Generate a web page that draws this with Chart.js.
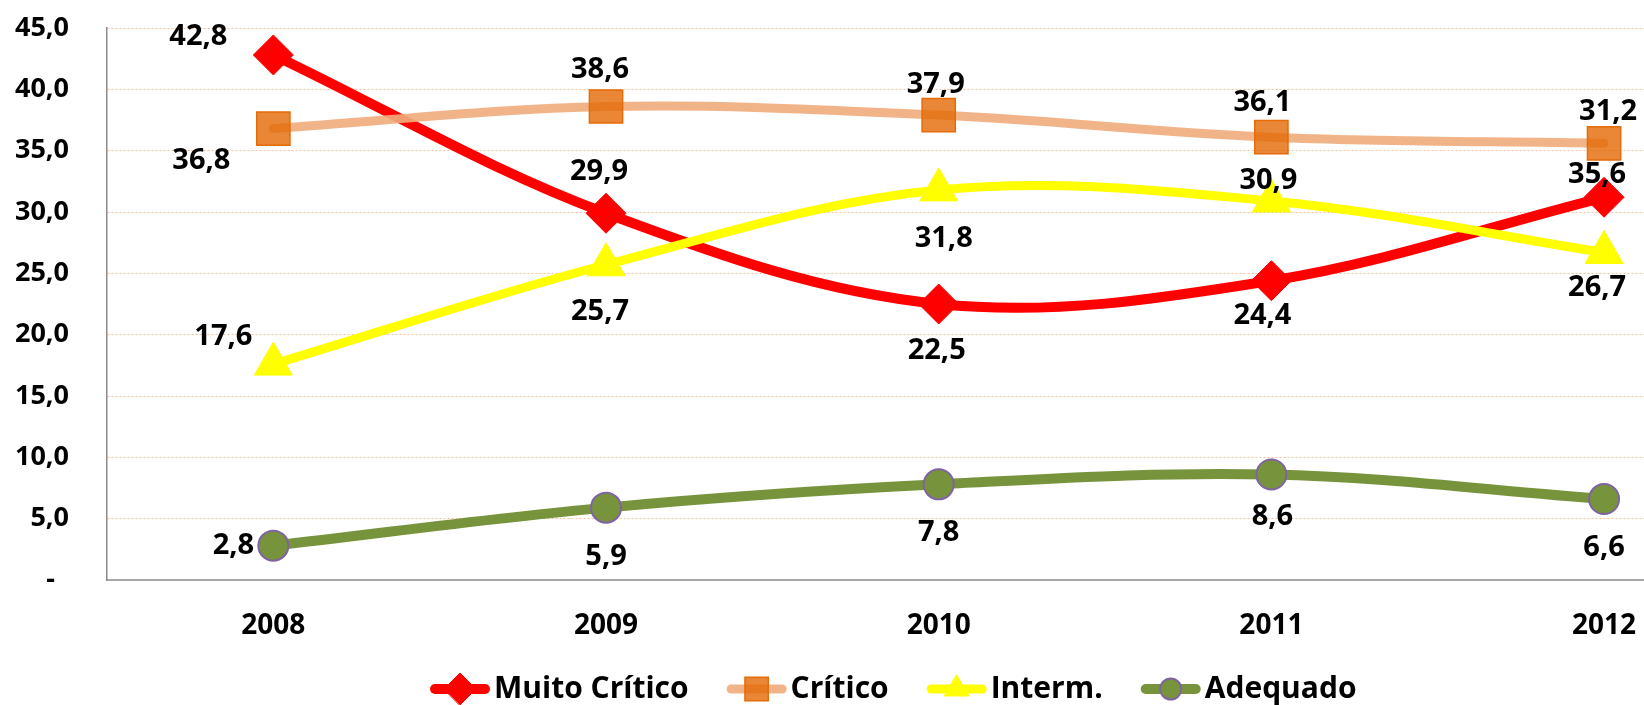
<!DOCTYPE html>
<html>
<head>
<meta charset="utf-8">
<script src="https://cdn.jsdelivr.net/npm/chart.js@4.4.0/dist/chart.umd.min.js"></script>
<style>
  html, body { margin: 0; padding: 0; background: #ffffff; }
  #wrap { width: 1644px; height: 705px; }
</style>
</head>
<body>
<div id="wrap"><canvas id="chart" width="1644" height="705"></canvas></div>
<script>
// Percentual de alunos por nível de desempenho, 2008–2012
const years = [2008, 2009, 2010, 2011, 2012];
const muitoCritico = [42.8, 29.9, 22.5, 24.4, 31.2];
const critico = [36.8, 38.6, 37.9, 36.1, 35.6];
const interm = [17.6, 25.7, 31.8, 30.9, 26.7];
const adequado = [2.8, 5.9, 7.8, 8.6, 6.6];
const seriesNames = ['Muito Crítico', 'Crítico', 'Interm.', 'Adequado'];
const yTicks = [0, 5, 10, 15, 20, 25, 30, 35, 40, 45];

const FONT = 'Open Sans';
const fmt = v => v.toFixed(1).replace('.', ',');

// visual style per series
const seriesStyle = [
  { line: '#FF0000', fill: '#FF0000', border: '#FF0000', point: 'rectRot', r: 20, bw: 1, lw: 10, order: 4, legendR: 16 },
  { line: 'rgba(240,172,124,0.9)', fill: 'rgba(228,108,10,0.82)', border: '#E46C0A', point: 'rect', r: 23.5, bw: 1.5, lw: 9, order: 3, legendR: 16.5 },
  { line: '#FFFF00', fill: '#FFFF00', border: '#FFFF00', point: 'triangle', r: 22, bw: 1, lw: 9, order: 2, legendR: 14 },
  { line: '#77933C', fill: '#77933C', border: '#8064A2', point: 'circle', r: 15, bw: 2, lw: 10, order: 1, legendR: 10.5 }
];

// value-label offsets (dx, dy) from each marker centre
const labelOffsets = [
  [[-75, -18], [-7, -41], [-2, 47], [-9, 35], [4, -86]],
  [[-72, 32], [-6, -37], [-3, -30], [-9, -34], [-7, 31]],
  [[-50, -27], [-6, 47], [5, 49], [-3, -20], [-7, 35]],
  [[-40, 0], [0, 49], [0, 48], [1, 42], [0, 49]]
];

const seriesValues = [muitoCritico, critico, interm, adequado];

const datasets = seriesValues.map((vals, s) => {
  const st = seriesStyle[s];
  return {
    label: seriesNames[s],
    data: years.map((yr, i) => ({ x: yr, y: vals[i] })),
    borderColor: st.line,
    backgroundColor: st.fill,
    borderWidth: st.lw,
    borderCapStyle: 'round',
    borderJoinStyle: 'round',
    tension: 0.35,
    pointStyle: st.point,
    pointRadius: st.r,
    pointHoverRadius: st.r,
    pointBackgroundColor: st.fill,
    pointBorderColor: st.border,
    pointBorderWidth: st.bw,
    order: st.order,
    clip: false
  };
});

const valueLabels = {
  id: 'valueLabels',
  afterDatasetsDraw(chart) {
    const ctx = chart.ctx;
    ctx.save();
    ctx.font = `bold 29px "${FONT}"`;
    ctx.fillStyle = '#000000';
    ctx.textAlign = 'center';
    ctx.textBaseline = 'middle';
    chart.data.datasets.forEach((ds, s) => {
      const meta = chart.getDatasetMeta(s);
      meta.data.forEach((pt, i) => {
        const [dx, dy] = labelOffsets[s][i];
        ctx.fillText(fmt(seriesValues[s][i]), pt.x + dx, pt.y + dy);
      });
    });
    ctx.restore();
  }
};

const lineLegend = {
  id: 'lineLegend',
  afterDraw(chart) {
    const ctx = chart.ctx;
    const cy = 689;
    const lineLen = 60, toText = 4, gap = 38;
    ctx.save();
    ctx.font = `bold 30px "${FONT}"`;
    ctx.textBaseline = 'middle';
    ctx.textAlign = 'left';
    let x = 430;
    seriesNames.forEach((name, s) => {
      const st = seriesStyle[s];
      ctx.strokeStyle = st.line;
      ctx.lineWidth = st.lw;
      ctx.lineCap = 'round';
      ctx.beginPath();
      ctx.moveTo(x + st.lw / 2, cy);
      ctx.lineTo(x + lineLen - st.lw / 2, cy);
      ctx.stroke();
      ctx.fillStyle = st.fill;
      ctx.strokeStyle = st.border;
      ctx.lineWidth = st.bw;
      Chart.helpers.drawPoint(ctx, { pointStyle: st.point, radius: st.legendR, rotation: 0, borderWidth: st.bw }, x + lineLen / 2, cy);
      ctx.fillStyle = '#000000';
      const tx = x + lineLen + toText;
      ctx.fillText(name, tx, cy);
      x = tx + ctx.measureText(name).width + gap;
    });
    ctx.restore();
  }
};

new Chart(document.getElementById('chart'), {
  type: 'line',
  data: { datasets },
  options: {
    responsive: false,
    animation: false,
    devicePixelRatio: 1,
    layout: { autoPadding: false, padding: { top: 28, left: 0, right: 0, bottom: 0 } },
    plugins: { legend: { display: false }, tooltip: { enabled: false } },
    scales: {
      x: {
        type: 'linear',
        min: 2007.5,
        max: 2012.12,
        afterBuildTicks: scale => { scale.ticks = years.map(v => ({ value: v })); },
        afterFit: scale => {
          scale.height = 125;
          scale.paddingLeft = 0;
          scale.paddingRight = 0;
        },
        grid: { display: false, drawTicks: false },
        border: { display: true, color: '#A6A6A6', width: 2 },
        ticks: {
          padding: 0,
          color: '#000000',
          autoSkip: false,
          maxRotation: 0,
          font: { family: FONT, weight: 'bold', size: 28, lineHeight: 3.3 },
          callback: v => String(v)
        }
      },
      y: {
        min: 0,
        max: 45,
        afterBuildTicks: scale => { scale.ticks = yTicks.map(v => ({ value: v })); },
        afterFit: scale => {
          scale.width = 107;
          scale.paddingTop = 0;
          scale.paddingBottom = 0;
        },
        grid: {
          drawTicks: false,
          lineWidth: 1,
          color: c => (c.tick && c.tick.value === 0) ? 'rgba(0,0,0,0)' : 'rgba(245,170,115,0.75)'
        },
        border: { display: true, color: '#8C8C8C', width: 1.5, dash: [2, 2] },
        ticks: {
          padding: 38,
          color: '#000000',
          font: { family: FONT, weight: 'bold', size: 27 },
          callback: v => (v === 0 ? '-  ' : fmt(v))
        }
      }
    }
  },
  plugins: [valueLabels, lineLegend]
});
</script>
</body>
</html>
